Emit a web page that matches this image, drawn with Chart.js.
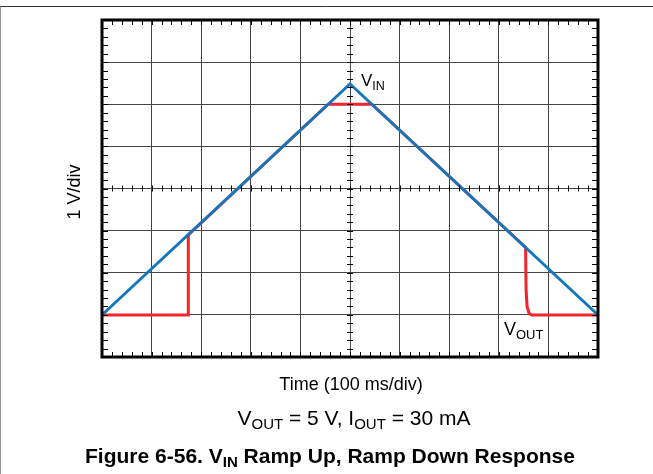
<!DOCTYPE html>
<html>
<head>
<meta charset="utf-8">
<script src="https://cdn.jsdelivr.net/npm/chart.js@4.4.1/dist/chart.umd.min.js"></script>
<style>
  html, body { margin: 0; padding: 0; background: #fff; }
  #wrap { position: relative; width: 653px; height: 474px; }
</style>
</head>
<body>
<div id="wrap"><canvas id="chart" width="653" height="474"></canvas></div>
<script>
// time in divisions (100 ms/div), voltage in divisions (1 V/div)
const vinTime = [0, 5, 10];
const vinLevel = [1, 6.48, 1];
const voutTime = [0, 1.74, 1.74, 4.56, 5.44, 8.54, 8.55, 8.57, 8.61, 8.66, 10];
const voutLevel = [1, 1, 2.9, 6, 6, 2.6, 1.6, 1.2, 1.04, 1, 1];

const xDivs = 10;
const yDivs = 8;

const toPoints = (xs, ys) => xs.map((x, i) => ({ x: x, y: ys[i] }));

// draws the scope frame, the minor ticks and all the text
const scopeDecor = {
    id: 'scopeDecor',
    afterDraw(chart) {
        const ctx = chart.ctx;
        const a = chart.chartArea;
        const xs = chart.scales.x;
        const ys = chart.scales.y;
        ctx.save();

        // outer figure frame
        ctx.strokeStyle = '#333';
        ctx.lineWidth = 1;
        ctx.beginPath();
        ctx.moveTo(0, 6.5); ctx.lineTo(653, 6.5);
        ctx.stroke();
        ctx.strokeStyle = '#999';
        ctx.beginPath();
        ctx.moveTo(0.5, 6.5); ctx.lineTo(0.5, 474);
        ctx.stroke();

        // minor ticks every 0.2 div on the border and the centre cross
        ctx.strokeStyle = '#000';
        ctx.lineWidth = 1;
        ctx.beginPath();
        const cx = xs.getPixelForValue(xDivs / 2);
        const cy = ys.getPixelForValue(yDivs / 2);
        for (let i = 1; i < xDivs * 5; i++) {
            const px = Math.round(xs.getPixelForValue(i / 5)) + 0.5;
            ctx.moveTo(px, a.top); ctx.lineTo(px, a.top + 5);
            ctx.moveTo(px, a.bottom); ctx.lineTo(px, a.bottom - 5);
            ctx.moveTo(px, cy - 3); ctx.lineTo(px, cy + 3);
        }
        for (let i = 1; i < yDivs * 5; i++) {
            const py = Math.round(ys.getPixelForValue(i / 5)) + 0.5;
            ctx.moveTo(a.left, py); ctx.lineTo(a.left + 6, py);
            ctx.moveTo(a.right, py); ctx.lineTo(a.right - 6, py);
            ctx.moveTo(cx - 3, py); ctx.lineTo(cx + 3, py);
        }
        ctx.stroke();

        // thick frame of the graticule
        ctx.lineWidth = 3;
        ctx.strokeRect(a.left, a.top, a.right - a.left, a.bottom - a.top);

        ctx.fillStyle = '#000';
        ctx.textBaseline = 'alphabetic';

        // text with subscripts: parts = [[text, isSub], ...]
        function richText(parts, size, subSize, weight, x, y, align) {
            const font = (s) => weight + ' ' + s + 'px "Liberation Sans", Arial, sans-serif';
            let total = 0;
            parts.forEach(p => { ctx.font = font(p[1] ? subSize : size); total += ctx.measureText(p[0]).width; });
            let px = align === 'center' ? x - total / 2 : x;
            ctx.textAlign = 'left';
            parts.forEach(p => {
                ctx.font = font(p[1] ? subSize : size);
                ctx.fillText(p[0], px, p[1] ? y + 4 : y);
                px += ctx.measureText(p[0]).width;
            });
        }

        richText([['V', false], ['IN', true]], 17, 12.5, 'normal', 361, 86, 'left');
        richText([['V', false], ['OUT', true]], 18, 13, 'normal', 504, 335, 'left');

        richText([['Time (100 ms/div)', false]], 18, 18, 'normal', 351, 390, 'center');
        richText([['V', false], ['OUT', true], [' = 5 V, I', false], ['OUT', true], [' = 30 mA', false]],
            21, 15, 'normal', 354, 425, 'center');
        richText([['Figure 6-56. V', false], ['IN', true], [' Ramp Up, Ramp Down Response', false]],
            21, 15, 'bold', 330, 463, 'center');

        // vertical axis label
        ctx.save();
        ctx.translate(80, 192);
        ctx.rotate(-Math.PI / 2);
        richText([['1 V/div', false]], 18, 18, 'normal', 0, 0, 'center');
        ctx.restore();

        ctx.restore();
    }
};

const ctx = document.getElementById('chart').getContext('2d');
new Chart(ctx, {
    type: 'scatter',
    data: {
        datasets: [
            {
                label: 'VIN',
                data: toPoints(vinTime, vinLevel),
                showLine: true,
                borderColor: '#1477bd',
                borderWidth: 2.8,
                pointRadius: 0,
                tension: 0
            },
            {
                label: 'VOUT',
                data: toPoints(voutTime, voutLevel),
                showLine: true,
                borderColor: '#f0252e',
                borderWidth: 3,
                pointRadius: 0,
                tension: 0
            }
        ]
    },
    options: {
        responsive: false,
        animation: false,
        layout: { padding: { left: 102, top: 20, right: 55, bottom: 117 } },
        plugins: { legend: { display: false }, tooltip: { enabled: false } },
        scales: {
            x: {
                type: 'linear', min: 0, max: xDivs,
                ticks: { display: false, stepSize: 1 },
                grid: { color: '#444', lineWidth: 1, drawTicks: false },
                border: { display: false }
            },
            y: {
                type: 'linear', min: 0, max: yDivs,
                ticks: { display: false, stepSize: 1 },
                grid: { color: '#444', lineWidth: 1, drawTicks: false },
                border: { display: false }
            }
        }
    },
    plugins: [scopeDecor]
});
</script>
</body>
</html>
